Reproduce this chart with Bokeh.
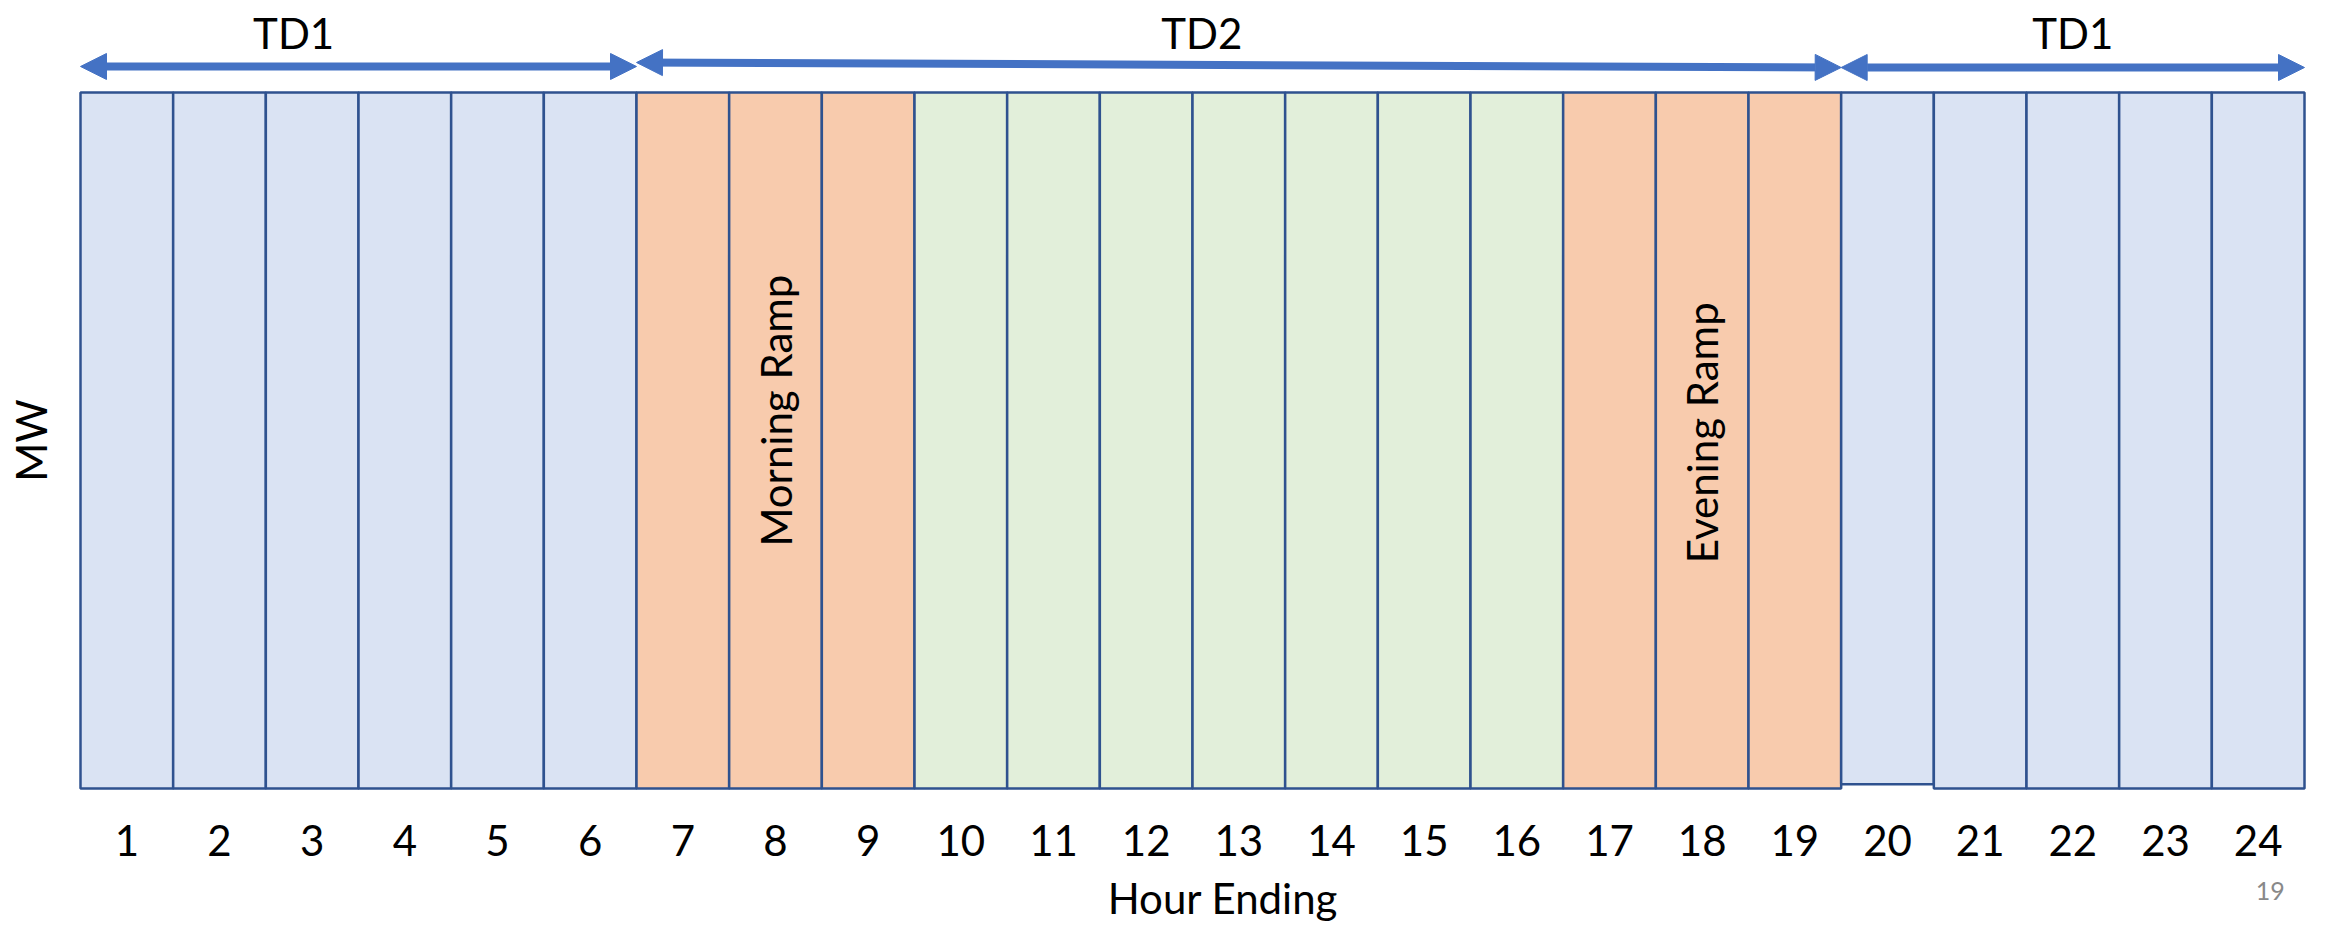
import math
from bokeh.plotting import figure
from bokeh.models import Range1d, FixedTicker, Arrow, NormalHead, ColumnDataSource
from bokeh.core.properties import value
from bokeh.embed import file_html
from bokeh.resources import INLINE

# ---- data ----
hours = list(range(1, 25))
hour_labels = [str(h) for h in hours]
periods = (["TD1"] * 6 + ["Ramp"] * 3 + ["Midday"] * 7 + ["Ramp"] * 3 + ["TD1"] * 5)
mw_top = [1.0] * 24
mw_bottom = [0.0] * 19 + [0.006] + [0.0] * 4
period_colors = {"TD1": "#DAE3F3", "Ramp": "#F8CBAD", "Midday": "#E2EFDA"}

td_names = ["TD1", "TD2", "TD1"]
td_start = [0, 6, 19]
td_end = [6, 19, 24]
td_label_x = [2.3, 12.1, 21.5]

ramp_names = ["Morning Ramp", "Evening Ramp"]
ramp_hour = [8, 18]

y_title = "MW"
x_title = "Hour Ending"
page_number = "19"

FONT = "Lato"
FS = "42px"
PX = 696.0   # pixels per unit of height
PW = 2224 / 24.0  # pixels per hour

# ---- figure ----
p = figure(frame_width=2320, frame_height=929, output_backend="svg", toolbar_location=None,
           x_range=Range1d(-80 / PW, 24 + 16 / PW), y_range=Range1d(-141 / PX, 788 / PX),
           min_border_left=0, min_border_right=0, min_border_top=0, min_border_bottom=0)
p.outline_line_color = None
p.xgrid.visible = False
p.ygrid.visible = False
p.yaxis.visible = False
p.background_fill_color = "white"

src = ColumnDataSource(dict(
    left=[h - 1 for h in hours], right=hours, top=mw_top, bottom=mw_bottom,
    color=[period_colors[k] for k in periods]))
p.quad(left="left", right="right", top="top", bottom="bottom", source=src,
       fill_color="color", line_color="#2F528F", line_width=2.5)

# arrows
arrow_y0 = [1.0374, 1.0431, 1.0359]
arrow_y1 = [1.0374, 1.0359, 1.0359]
for s, e, y0, y1 in zip(td_start, td_end, arrow_y0, arrow_y1):
    p.add_layout(Arrow(
        start=NormalHead(size=26, fill_color="#4472C4", line_color="#4472C4"),
        end=NormalHead(size=26, fill_color="#4472C4", line_color="#4472C4"),
        x_start=s, y_start=y0, x_end=e, y_end=y1,
        line_color="#4472C4", line_width=8))

p.text(x=td_label_x, y=[1.0848] * 3, text=td_names, text_font=value(FONT),
       text_font_size=FS, text_align="center", text_baseline="middle", text_color="black")

p.text(x=[h - 0.5 for h in ramp_hour], y=[0.543, 0.511], text=ramp_names,
       angle=math.pi / 2, text_font=value(FONT), text_font_size=FS,
       text_align="center", text_baseline="middle", text_color="black")

# y title (MW) at the left, centred on the boxes
p.text(x=[-50 / PW], y=[0.5], text=[y_title], angle=math.pi / 2, text_font=value(FONT),
       text_font_size=FS, text_align="center", text_baseline="middle", text_color="black")

p.text(x=[23.63], y=[-0.1466], text=[page_number], text_font=value(FONT),
       text_font_size="25px", text_align="center", text_baseline="middle",
       text_color="#898989")

# x axis
p.xaxis.fixed_location = 0
p.xaxis.bounds = (0.49, 24.49)
p.xaxis.ticker = FixedTicker(ticks=[h - 0.5 for h in hours])
p.xaxis.major_label_overrides = {h - 0.5: lab for h, lab in zip(hours, hour_labels)}
p.xaxis.major_label_text_font = FONT
p.xaxis.major_label_text_font_size = FS
p.xaxis.major_label_text_color = "black"
p.xaxis.major_label_standoff = 30
p.xaxis.axis_line_color = None
p.xaxis.major_tick_line_color = None
p.xaxis.minor_tick_line_color = None
p.xaxis.axis_label = x_title
p.xaxis.axis_label_text_font = FONT
p.xaxis.axis_label_text_font_size = FS
p.xaxis.axis_label_text_font_style = "normal"
p.xaxis.axis_label_text_color = "black"
p.xaxis.axis_label_standoff = 14

open("out.html", "w").write(file_html(p, INLINE))
